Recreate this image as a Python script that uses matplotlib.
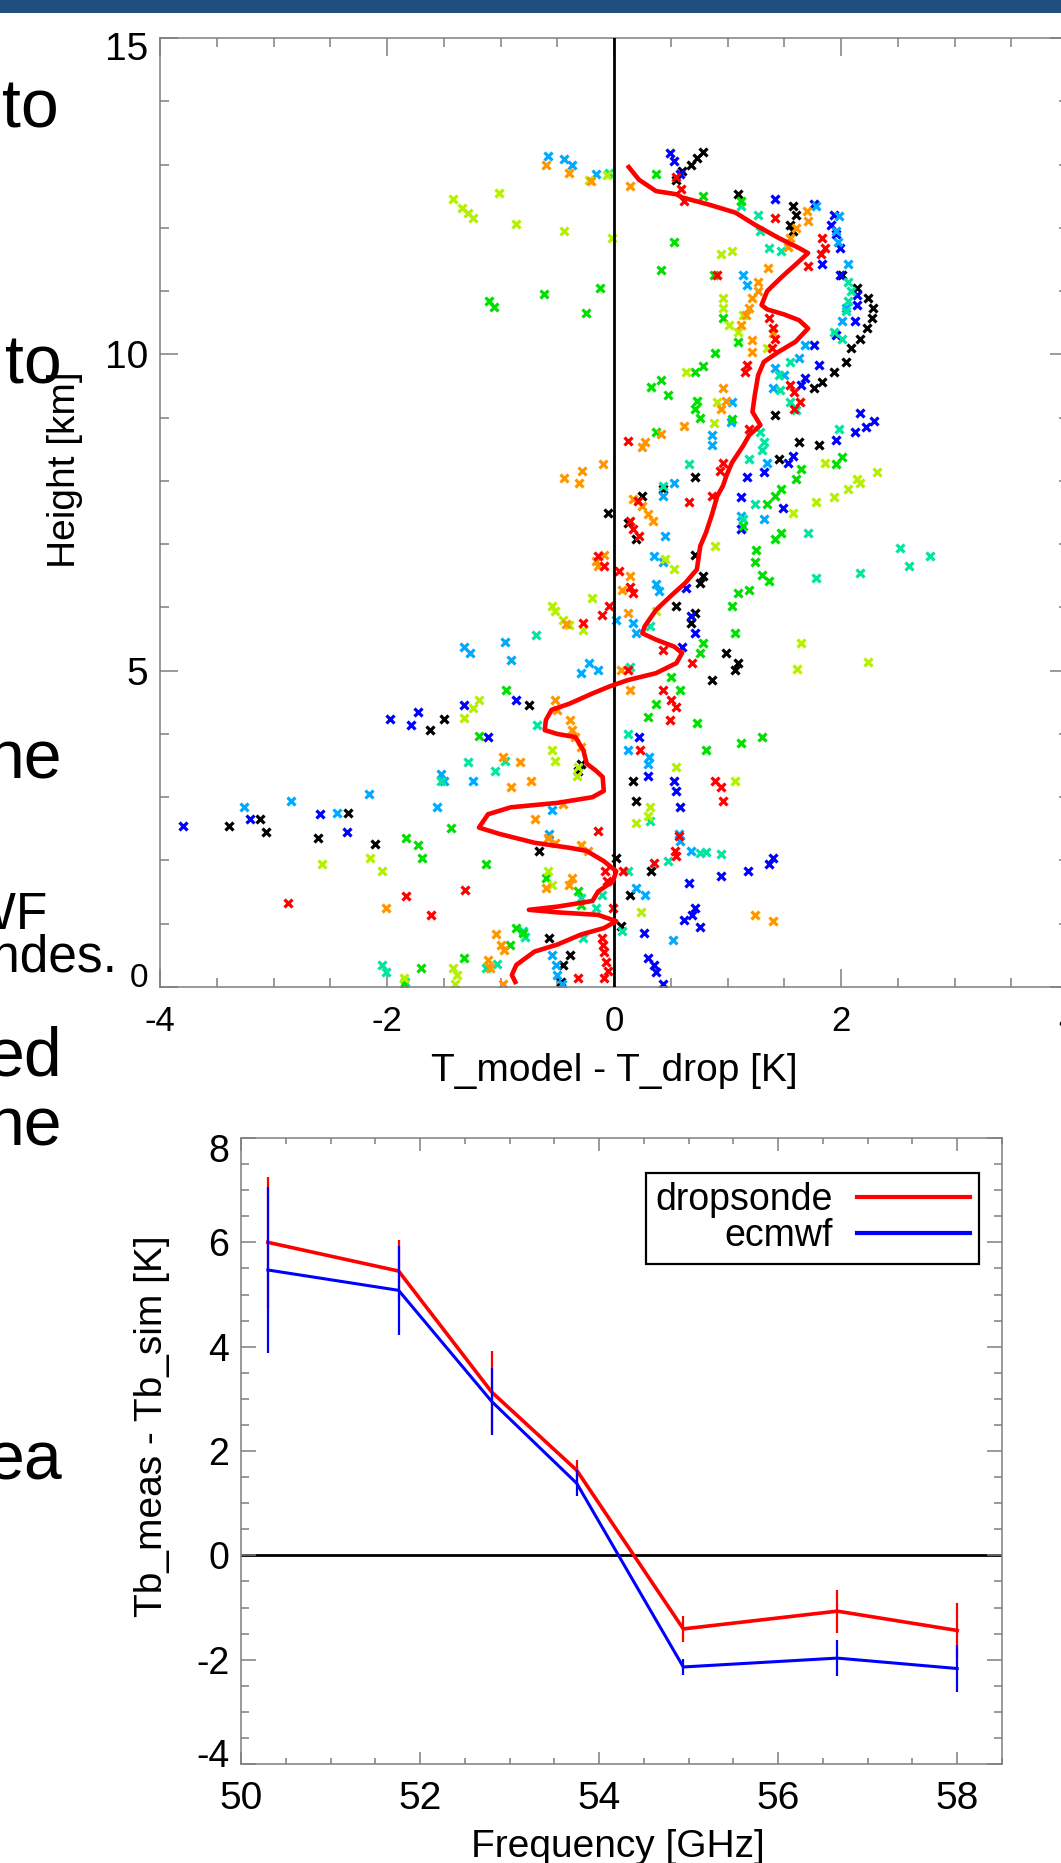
import numpy as np
import matplotlib
matplotlib.use('Agg')
import matplotlib.pyplot as plt
from matplotlib.ticker import MultipleLocator
from matplotlib.patches import Rectangle
from matplotlib.lines import Line2D
from matplotlib.transforms import ScaledTranslation

plt.rcParams['font.family'] = ['Liberation Sans', 'DejaVu Sans']
plt.rcParams['axes.unicode_minus'] = False

# ---------------- data: top panel (T_model - T_drop [K], height [km]) ----------------
sonde_black = [(0.78,13.2),(0.73,13.1),(0.68,13.0),(0.60,12.9),(0.55,12.75),(1.09,12.53),(1.58,12.34),(1.60,12.21),
    (1.55,12.05),(1.58,11.95),(2.01,11.26),(2.14,11.05),(2.24,10.89),(2.28,10.73),(2.27,10.57),(2.23,10.41),(2.17,10.25),
    (2.09,10.1),(2.04,9.88),(1.94,9.72),(1.83,9.57),(1.76,9.46),(1.42,9.04),(1.63,8.61),(1.81,8.56),(1.45,8.35),(0.71,8.06),
    (0.43,7.87),(0.25,7.76),(-0.05,7.5),(0.12,7.34),(0.19,7.08),(0.71,6.83),(0.78,6.49),(0.76,6.39),(0.55,6.02),(0.71,5.91),
    (0.68,5.75),(0.99,5.28),(1.09,5.12),(1.07,5.01),(0.86,4.85),(-0.75,4.45),(-1.50,4.24),(-1.62,4.06),(-0.29,3.53),
    (-0.32,3.42),(0.17,3.26),(0.19,2.94),(-2.34,2.75),(-3.12,2.66),(-3.39,2.55),(-3.07,2.45),(-2.61,2.36),(-2.11,2.26),
    (-0.66,2.15),(0.02,2.04),(0.33,1.83),(0.14,1.46),(0.06,0.96),(-0.57,0.77),(-0.39,0.51),(-0.45,0.35),(-0.47,0.08)]
sonde_blue = [(0.49,13.19),(0.53,13.06),(0.58,12.85),(1.42,12.46),(1.76,12.37),(1.94,12.21),(1.91,12.05),(1.96,11.9),
    (1.99,11.68),(1.83,11.42),(1.99,11.26),(2.14,10.94),(2.14,10.78),(2.12,10.52),(1.96,10.31),(1.76,10.15),(1.81,9.83),
    (1.68,9.62),(1.65,9.51),(2.17,9.07),(2.29,8.95),(2.22,8.85),(2.12,8.77),(1.96,8.64),(1.58,8.4),(1.53,8.29),(1.32,8.14),
    (1.17,8.06),(1.12,7.74),(1.49,7.57),(1.12,7.24),(0.63,6.3),(0.68,5.86),(0.71,5.59),(0.60,5.38),(-1.32,4.45),(-1.73,4.35),
    (-1.97,4.24),(-1.79,4.14),(-1.11,3.95),(-0.86,4.53),(0.22,3.95),(0.30,3.34),(0.53,3.26),(0.55,3.1),(0.58,2.84),
    (-2.59,2.73),(-3.21,2.66),(-3.8,2.54),(-2.35,2.45),(1.40,2.04),(1.37,1.94),(1.18,1.83),(0.94,1.75),(0.66,1.64),
    (0.71,1.25),(0.69,1.14),(0.62,1.06),(0.76,0.95),(0.26,0.86),(0.30,0.46),(0.35,0.35),(0.37,0.24),(0.43,0.05)]
sonde_sky = [(-0.58,13.14),(-0.44,13.08),(-0.37,13.0),(-0.16,12.85),(1.78,12.34),(1.98,12.19),(1.96,11.95),(1.97,11.77),
    (2.06,11.42),(1.14,11.26),(1.17,11.1),(2.04,10.73),(2.01,10.52),(1.68,10.15),(1.63,9.94),(1.42,9.78),(1.50,9.67),
    (1.40,9.46),(1.04,9.25),(1.03,8.93),(0.86,8.72),(0.86,8.56),(1.35,8.29),(0.53,7.96),(0.43,7.76),(1.12,7.45),(1.32,7.39),
    (0.45,7.13),(0.35,6.81),(0.43,6.71),(0.37,6.37),(0.40,6.26),(0.02,5.8),(0.17,5.75),(0.19,5.59),(-0.22,5.12),(-0.14,5.01),
    (-0.29,4.96),(-1.32,5.38),(-1.27,5.28),(-0.96,5.46),(-0.91,5.17),(0.31,3.63),(0.30,3.53),(0.12,3.74),(-1.52,3.37),
    (-1.50,3.26),(-1.24,3.26),(-2.16,3.05),(-2.85,2.94),(-3.26,2.84),(-2.44,2.75),(-1.56,2.84),(-0.55,2.79),(-0.57,2.42),
    (0.57,2.42),(0.58,2.31),(0.68,2.15),(0.19,1.57),(0.27,1.46),(0.52,0.75),(-0.55,0.51),(-0.51,0.35),(-0.50,0.19),(-0.46,0.05)]
sonde_teal = [(-0.04,12.87),(1.12,12.34),(1.27,12.21),(1.29,11.95),(1.37,11.68),(1.47,11.63),(2.06,11.15),(2.09,11.0),
    (2.06,10.84),(2.04,10.68),(1.94,10.36),(2.01,10.25),(1.55,9.88),(1.45,9.67),(1.46,9.44),(1.55,9.25),(1.60,9.12),
    (1.98,8.82),(1.29,8.77),(1.32,8.61),(1.30,8.49),(1.19,8.35),(0.66,8.27),(0.43,7.92),(1.24,7.64),(1.14,7.39),(1.71,7.18),
    (1.78,6.47),(2.17,6.55),(2.52,6.94),(2.60,6.65),(2.78,6.81),(0.32,5.70),(0.14,5.06),(-0.69,5.56),(0.12,4.0),(-0.68,4.14),
    (-1.29,3.56),(-1.05,3.42),(-0.96,3.58),(-1.52,3.26),(0.32,2.63),(0.76,2.12),(0.81,2.13),(0.94,2.10),(0.48,1.99),
    (0.12,1.83),(-0.11,1.46),(-0.29,1.41),(-0.16,1.25),(0.07,0.88),(-0.80,0.88),(-0.78,0.79),(-0.27,0.77),(-1.03,0.37),
    (-1.13,0.3),(-2.04,0.35),(-2.01,0.24),(-1.84,0.08)]
sonde_green = [(0.37,12.85),(0.78,12.5),(1.12,12.43),(0.53,11.77),(0.41,11.33),(-0.12,11.05),(-0.62,10.96),(-1.10,10.84),
    (-1.06,10.75),(-0.25,10.66),(0.88,11.26),(0.96,10.57),(1.09,10.2),(0.89,10.02),(0.78,9.81),(0.71,9.72),(0.41,9.59),
    (0.33,9.48),(0.48,9.35),(0.73,9.27),(0.71,9.14),(0.76,9.0),(1.04,8.98),(0.37,8.77),(1.96,8.27),(2.01,8.38),(1.65,8.19),
    (1.60,8.03),(1.47,7.87),(1.42,7.76),(1.35,7.64),(1.14,7.29),(1.47,7.18),(1.42,7.08),(1.25,6.9),(1.24,6.71),(1.30,6.51),
    (1.37,6.41),(1.19,6.28),(1.09,6.23),(1.04,6.02),(1.07,5.59),(0.78,5.43),(0.76,5.28),(0.50,4.9),(0.58,4.69),(0.37,4.48),
    (0.30,4.27),(0.73,4.18),(1.12,3.85),(1.30,3.95),(0.81,3.74),(-0.95,4.69),(-1.19,3.97),(-1.83,2.36),(-1.73,2.24),
    (-1.69,2.04),(-1.44,2.52),(-1.13,1.94),(-0.6,1.73),(-0.32,1.51),(-0.29,1.3),(-0.86,0.93),(-0.8,0.86),(-0.92,0.67),
    (-1.32,0.46),(-1.70,0.3),(-1.85,0.05)]
sonde_lime = [(-1.42,12.45),(-1.34,12.32),(-1.29,12.24),(-1.24,12.16),(-1.01,12.55),(-0.86,12.06),(-0.44,11.95),
    (-0.02,11.84),(-0.06,12.83),(-0.22,12.76),(0.94,11.58),(1.04,11.63),(0.96,10.89),(0.96,10.73),(1.14,10.62),(1.09,10.36),
    (1.01,10.47),(1.35,10.1),(0.63,9.72),(0.91,9.25),(0.88,8.91),(1.86,8.29),(2.14,8.03),(2.17,7.96),(2.32,8.14),(2.06,7.87),
    (1.94,7.74),(1.78,7.66),(1.58,7.5),(0.89,6.97),(0.45,6.76),(0.53,6.6),(0.37,5.94),(-0.55,6.02),(-0.52,5.94),(-0.45,5.8),
    (-0.40,5.72),(-0.27,5.65),(-0.19,6.15),(1.65,5.43),(1.61,5.03),(2.24,5.14),(-1.19,4.53),(-1.24,4.41),(-1.32,4.25),
    (-0.55,3.74),(-0.52,3.58),(-0.32,3.47),(-0.33,3.34),(0.55,3.47),(1.07,3.26),(0.32,2.84),(0.30,2.71),(0.19,2.6),
    (-2.57,1.94),(-2.15,2.04),(-2.04,1.83),(-0.58,1.83),(-0.55,1.62),(0.24,1.18),(-1.42,0.30),(-1.38,0.19),(-1.40,0.05),
    (-1.85,0.14)]
sonde_orange = [(-0.60,13.0),(-0.40,12.87),(-0.20,12.74),(0.14,12.66),(1.70,12.27),(1.71,12.11),(1.60,12.0),(1.55,11.84),
    (1.53,11.7),(1.36,11.37),(1.27,11.15),(1.27,11.0),(1.22,10.89),(1.19,10.73),(1.16,10.62),(1.12,10.47),(1.40,10.33),
    (1.22,10.22),(1.22,10.04),(0.96,9.46),(0.99,9.27),(0.94,9.14),(0.62,8.86),(0.41,8.74),(0.27,8.61),(0.25,8.53),
    (-0.10,8.27),(-0.28,8.16),(-0.44,8.05),(-0.31,7.96),(0.17,7.71),(0.25,7.61),(0.30,7.47),(0.34,7.36),(-0.09,6.83),
    (-0.16,6.73),(-0.14,6.65),(0.14,6.49),(0.07,6.28),(0.12,5.91),(-0.42,5.73),(0.06,5.01),(0.14,4.69),(-0.52,4.53),
    (-0.50,4.38),(-0.39,4.22),(-0.37,4.06),(-0.34,3.95),(-0.29,3.79),(-0.98,3.63),(-0.83,3.55),(-0.73,3.26),(-0.91,3.16),
    (-0.45,2.89),(-0.70,2.65),(-0.58,2.36),(-0.52,2.28),(-0.29,2.24),(-0.23,2.15),(-0.37,1.73),(-0.40,1.62),(-0.60,1.57),
    (-2.01,1.25),(-1.04,0.83),(-1.0,0.67),(-0.97,0.58),(-1.11,0.43),(-1.09,0.3),(-0.98,0.05),(1.24,1.14),(1.40,1.04)]
sonde_red = [(0.55,12.8),(0.59,12.62),(0.62,12.43),(1.42,12.16),(1.83,11.84),(1.86,11.68),(1.82,11.58),(1.71,11.39),
    (0.91,11.26),(1.37,10.57),(1.40,10.41),(1.42,10.25),(1.39,10.1),(1.17,9.83),(1.15,9.72),(1.55,9.51),(1.59,9.41),
    (1.64,9.25),(1.59,9.14),(1.19,8.82),(0.12,8.63),(0.96,8.29),(0.93,8.16),(0.86,7.76),(0.21,7.68),(0.66,7.66),(0.14,7.36),
    (0.17,7.24),(0.22,7.13),(-0.14,6.81),(-0.09,6.65),(0.04,6.58),(0.14,6.33),(0.17,6.23),(-0.04,6.02),(-0.11,5.88),
    (-0.27,5.75),(0.43,5.33),(0.69,5.12),(0.12,5.01),(0.43,4.69),(0.5,4.53),(0.55,4.43),(0.49,4.22),(0.23,3.74),(0.89,3.26),
    (0.94,3.16),(0.96,2.94),(-0.14,2.47),(0.57,2.38),(0.54,2.15),(0.55,2.07),(0.35,1.96),(0.08,1.83),(-0.08,1.83),
    (-0.06,1.67),(-1.31,1.54),(-1.83,1.44),(-0.01,1.25),(-1.61,1.14),(-2.87,1.33),(-0.11,0.77),(-0.10,0.67),(-0.09,0.56),
    (-0.07,0.40),(-0.05,0.26),(-0.09,0.14),(-0.32,0.14)]

sondes = [sonde_black, sonde_blue, sonde_sky, sonde_teal, sonde_green, sonde_lime, sonde_orange, sonde_red]
sonde_colors = ['#000000', '#0000ff', '#00aaff', '#00e6a0', '#00e000', '#b4f000', '#ff9600', '#ff0000']

mean_dT = [0.13,0.22,0.37,0.55,0.60,0.83,1.07,1.24,1.45,1.63,1.71,1.60,1.47,1.35,1.30,1.35,1.50,1.63,1.71,1.60,1.45,
    1.32,1.27,1.24,1.22,1.29,1.19,1.14,1.04,0.99,0.96,0.91,0.86,0.81,0.76,0.73,0.63,0.50,0.37,0.27,0.25,0.37,0.53,0.60,
    0.55,0.37,0.12,-0.04,-0.19,-0.39,-0.55,-0.60,-0.61,-0.50,-0.34,-0.27,-0.24,-0.16,-0.10,-0.09,-0.19,-0.50,-0.91,-1.11,
    -1.19,-1.01,-0.70,-0.39,-0.24,-0.09,0.02,-0.01,-0.14,-0.19,-0.50,-0.75,-0.50,-0.14,0.02,-0.09,-0.29,-0.50,-0.70,
    -0.86,-0.90,-0.87]
mean_h = [12.96,12.76,12.58,12.53,12.48,12.37,12.24,12.05,11.84,11.68,11.6,11.42,11.21,11.0,10.78,10.71,10.63,10.54,
    10.41,10.2,10.04,9.88,9.67,9.35,9.09,8.88,8.72,8.56,8.29,8.08,7.92,7.76,7.45,7.18,6.97,6.6,6.39,6.18,5.96,5.7,5.59,
    5.49,5.38,5.28,5.12,4.96,4.85,4.75,4.64,4.48,4.38,4.22,4.06,4.0,3.95,3.74,3.53,3.42,3.32,3.10,3.0,2.91,2.84,2.73,
    2.52,2.42,2.28,2.2,2.15,1.99,1.83,1.67,1.51,1.36,1.27,1.22,1.18,1.14,1.04,0.93,0.83,0.67,0.56,0.35,0.19,0.08]

# ---------------- data: bottom panel ----------------
freq = [50.3, 51.76, 52.8, 53.75, 54.94, 56.66, 58.0]
drop = [6.0, 5.45, 3.13, 1.63, -1.41, -1.07, -1.44]
drop_err = [1.25, 0.6, 0.78, 0.2, 0.25, 0.41, 0.53]
ecmwf = [5.47, 5.08, 2.95, 1.38, -2.14, -1.97, -2.17]
ecmwf_err = [1.6, 0.85, 0.65, 0.25, 0.15, 0.34, 0.45]
series_labels = ['dropsonde', 'ecmwf']

# ---------------- figure ----------------
W, H = 1061, 1863
fig = plt.figure(figsize=(W / 100, H / 100), dpi=100)

def fx(px):
    return px / W

def fy(py):
    return 1 - py / H

fig.patches.append(Rectangle((0, fy(13)), 1, 13 / H, transform=fig.transFigure,
                             facecolor='#1e4f7e', edgecolor='none', zorder=0))

# slide text fragments on the left
big = 49
for txt, xr, yb, fs in [('to', 59, 127, big), ('to', 62, 383, big), ('ne', 62, 778, big),
                        ('ECMWF', 48, 930, 37), ('sondes.', 118, 972, 37),
                        ('ed', 62, 1075, big), ('ne', 62, 1146, big), ('ea', 62, 1479, big)]:
    fig.text(fx(xr), fy(yb), txt, ha='right', va='baseline', fontsize=fs, color='black')

spine_col = '#7f7f7f'

# ---- top panel ----
ax1 = fig.add_axes([fx(160), fy(987), (1068 - 160) / W, (987 - 38) / H])
for pts, col in zip(sondes, sonde_colors):
    arr = np.array(pts)
    ax1.plot(arr[:, 0], arr[:, 1], ls='none', marker='x', ms=5.5, mew=2.3, color=col, zorder=2)
ax1.axvline(0, color='black', lw=2.0, zorder=3)
ax1.plot(mean_dT, mean_h, color='#ff0000', lw=3.3, zorder=4, solid_joinstyle='round')
ax1.set_xlim(-4, 4)
ax1.set_ylim(0, 15)
ax1.xaxis.set_major_locator(MultipleLocator(2))
ax1.xaxis.set_minor_locator(MultipleLocator(0.5))
ax1.yaxis.set_major_locator(MultipleLocator(5))
ax1.yaxis.set_minor_locator(MultipleLocator(1))
ax1.tick_params(which='both', direction='in', top=True, right=True, color=spine_col, width=1.1)
ax1.tick_params(which='major', length=13)
ax1.tick_params(which='minor', length=6.5)
ax1.tick_params(axis='x', labelsize=25, pad=13)
ax1.tick_params(axis='y', labelsize=28, pad=8.5)
for sp in ax1.spines.values():
    sp.set_color(spine_col)
    sp.set_linewidth(1.1)
fig.text(fx(614), fy(1071), 'T_model - T_drop [K]', ha='center', va='center', fontsize=28)
fig.text(fx(65), fy(470), 'Height [km]', ha='center', va='center', rotation=90, fontsize=28)

# ---- bottom panel ----
ax2 = fig.add_axes([fx(241), fy(1764), (1002 - 241) / W, (1764 - 1138) / H])
ax2.axhline(0, color='black', lw=2.0, zorder=1)
ax2.errorbar(freq, drop, yerr=drop_err, color='#ff0000', lw=2.6, elinewidth=1.6, capsize=0, zorder=3)
ax2.errorbar(freq, ecmwf, yerr=ecmwf_err, color='#0000ff', lw=2.2, elinewidth=1.6, capsize=0, zorder=4)
ax2.set_xlim(50, 58.5)
ax2.set_ylim(-4, 8)
ax2.xaxis.set_major_locator(MultipleLocator(2))
ax2.xaxis.set_minor_locator(MultipleLocator(0.5))
ax2.yaxis.set_major_locator(MultipleLocator(2))
ax2.yaxis.set_minor_locator(MultipleLocator(0.5))
ax2.tick_params(which='both', direction='in', top=True, right=True, color=spine_col, width=1.1)
ax2.tick_params(axis='x', which='major', length=9)
ax2.tick_params(axis='x', which='minor', length=4.5)
ax2.tick_params(axis='y', which='major', length=11)
ax2.tick_params(axis='y', which='minor', length=6)
ax2.tick_params(axis='x', labelsize=28, pad=12)
ax2.tick_params(axis='y', labelsize=27, pad=8.5)
for sp in ax2.spines.values():
    sp.set_color(spine_col)
    sp.set_linewidth(1.1)
handles = [Line2D([], [], color='#ff0000', lw=3), Line2D([], [], color='#0000ff', lw=3)]
leg = ax2.legend(handles, series_labels, loc='upper right', bbox_to_anchor=(0.970, 0.944),
                 borderaxespad=0, markerfirst=False, fontsize=27, frameon=True, fancybox=False,
                 edgecolor='black', framealpha=1, handlelength=3.0, handletextpad=0.65,
                 labelspacing=0.0, borderpad=0.25)
leg.get_frame().set_linewidth(1.6)
fig.text(fx(618), fy(1829), 'Frequency [GHz]', ha='center', va='top', fontsize=28)
fig.text(fx(152), fy(1426), 'Tb_meas - Tb_sim [K]', ha='center', va='center', rotation=90, fontsize=28)

# IDL-style: end labels nudged inside the axis range
fig.canvas.draw()
shifts = {(ax1, '15'): -8, (ax1, '0'): 12, (ax2, '8'): -10, (ax2, '-4'): 11}
for ax in (ax1, ax2):
    for tick in ax.yaxis.get_major_ticks():
        lab = tick.label1
        key = (ax, lab.get_text())
        if ax is ax1 and lab.get_text() == '0':
            lab.set_fontsize(24)
        if key in shifts:
            dy = shifts[key] / 100.0
            lab.set_transform(lab.get_transform() + ScaledTranslation(0, dy, fig.dpi_scale_trans))

fig.savefig('out.png', dpi=100)
